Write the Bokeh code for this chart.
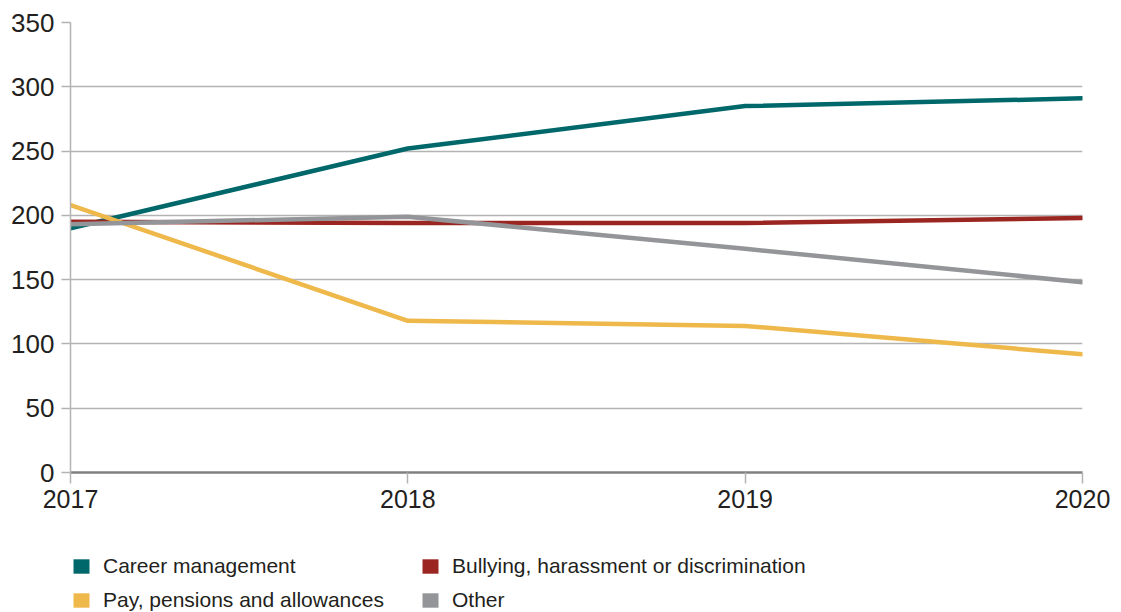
from bokeh.plotting import figure
from bokeh.models import Range1d, FixedTicker, Legend, LegendItem
from bokeh.layouts import column
from bokeh.embed import file_html
from bokeh.resources import INLINE

years = [2017, 2018, 2019, 2020]
career = [190, 252, 285, 291]
bullying = [195, 194, 194, 198]
pay = [208, 118, 114, 92]
other = [193, 199, 174, 148]
y_ticks = [0, 50, 100, 150, 200, 250, 300, 350]

series = [
    ("Career management", career, "#00686b"),
    ("Bullying, harassment or discrimination", bullying, "#9b2621"),
    ("Pay, pensions and allowances", pay, "#efb84b"),
    ("Other", other, "#939598"),
]

FONT = "Liberation Sans"
TXT = "#231f20"

p = figure(width=1121, height=520, output_backend="svg", toolbar_location=None,
           x_range=Range1d(2017, 2020), y_range=Range1d(0, 350),
           min_border_left=70, min_border_right=39, min_border_top=22,
           min_border_bottom=48)
p.outline_line_color = None
p.background_fill_color = "white"
p.border_fill_color = "white"

p.xgrid.grid_line_color = None
p.ygrid.grid_line_color = "#b3b3b3"
p.ygrid.grid_line_width = 1.5
p.ygrid.ticker = FixedTicker(ticks=y_ticks)

p.xaxis.ticker = FixedTicker(ticks=years)
p.yaxis.ticker = FixedTicker(ticks=y_ticks)
for ax in (p.xaxis[0], p.yaxis[0]):
    ax.major_label_text_font = FONT
    ax.major_label_text_color = TXT
    ax.minor_tick_line_color = None
    ax.major_tick_in = 0
p.xaxis.major_label_text_font_size = "25px"
p.yaxis.major_label_text_font_size = "26px"
p.xaxis.axis_line_color = "#808080"
p.xaxis.axis_line_width = 2.5
p.xaxis.major_tick_line_color = "#b3b3b3"
p.xaxis.major_tick_line_width = 1.5
p.xaxis.major_tick_out = 11
p.xaxis.major_label_standoff = 6
p.yaxis.axis_line_color = "#b3b3b3"
p.yaxis.axis_line_width = 1.5
p.yaxis.major_tick_line_color = "#b3b3b3"
p.yaxis.major_tick_line_width = 1.5
p.yaxis.major_tick_out = 9
p.yaxis.major_label_standoff = 7

for name, vals, color in series:
    p.line(years, vals, line_color=color, line_width=4.5,
           line_cap="round", line_join="round")

# legend panel
p2 = figure(width=1121, height=92, output_backend="svg", toolbar_location=None,
            x_range=Range1d(0, 1), y_range=Range1d(0, 1),
            x_axis_location=None, y_axis_location=None,
            min_border=0, min_border_left=0, min_border_right=0,
            min_border_top=0, min_border_bottom=0)
p2.outline_line_color = None
p2.grid.visible = False
p2.border_fill_color = "white"

nan = float("nan")
items = []
for name, vals, color in series:
    q = p2.quad(left=[nan], right=[nan], top=[nan], bottom=[nan],
                fill_color=color, line_color=None)
    items.append(LegendItem(label=name, renderers=[q]))

legend = Legend(items=items, orientation="horizontal", ncols=2,
                location=(1, 0), margin=0, padding=0,
                border_line_color=None, background_fill_alpha=0,
                glyph_width=20, glyph_height=18, label_standoff=12,
                label_width=307, label_height=18, spacing=10,
                label_text_font=FONT, label_text_font_size="21px",
                label_text_color=TXT)
p2.add_layout(legend, "center")

open("out.html", "w").write(file_html(column(p, p2, spacing=0), INLINE))
